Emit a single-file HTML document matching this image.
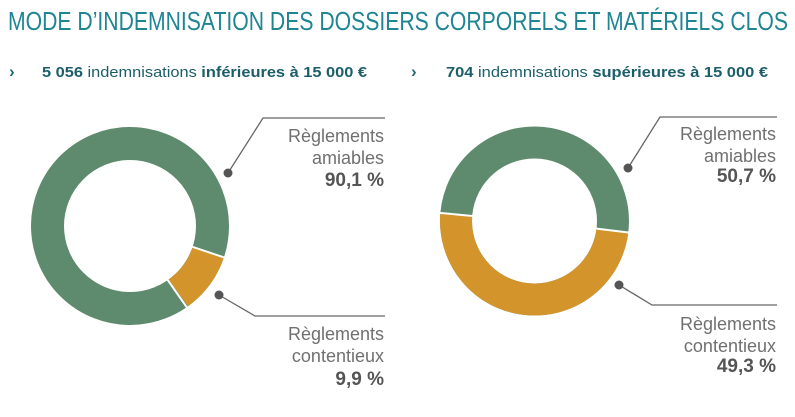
<!DOCTYPE html>
<html><head><meta charset="utf-8"><style>
html,body{margin:0;padding:0;background:#fff;width:795px;height:417px;overflow:hidden}
text{font-family:"Liberation Sans",sans-serif}
.l{fill:#707070;font-size:18px}
.b{fill:#555;font-size:19px;font-weight:bold}
</style></head><body>
<svg width="795" height="417" viewBox="0 0 795 417" xmlns="http://www.w3.org/2000/svg">
<text x="8" y="30" font-size="26" fill="#1f8593" textLength="780" lengthAdjust="spacingAndGlyphs">MODE D’INDEMNISATION DES DOSSIERS CORPORELS ET MATÉRIELS CLOS</text>
<text x="9" y="77" font-size="17" font-weight="bold" fill="#1b6b78">›</text>
<text x="42" y="77" font-size="15" fill="#1b5e6a" textLength="325" lengthAdjust="spacingAndGlyphs"><tspan font-weight="bold">5 056</tspan> indemnisations <tspan font-weight="bold">inférieures à 15 000 €</tspan></text>
<text x="411" y="77" font-size="17" font-weight="bold" fill="#1b6b78">›</text>
<text x="446" y="77" font-size="15" fill="#1b5e6a" textLength="322" lengthAdjust="spacingAndGlyphs"><tspan font-weight="bold">704</tspan> indemnisations <tspan font-weight="bold">supérieures à 15 000 €</tspan></text>

<!-- left donut -->
<g transform="translate(130,226)">
<circle r="82.5" fill="none" stroke="#5e8a6d" stroke-width="33"/>
<circle r="82.5" fill="none" stroke="#d4942c" stroke-width="33" stroke-dasharray="51.3 1000" transform="rotate(18.5)"/>
<line x1="62" y1="20.7" x2="103" y2="34.4" stroke="#fff" stroke-width="2"/>
<line x1="37" y1="53" x2="58" y2="83" stroke="#fff" stroke-width="2"/>
</g>
<!-- right donut -->
<g transform="translate(534.5,221)">
<circle r="78.5" fill="none" stroke="#5e8a6d" stroke-width="32"/>
<circle r="78.5" fill="none" stroke="#d4942c" stroke-width="32" stroke-dasharray="243 1000" transform="rotate(7)"/>
<line x1="62" y1="7.6" x2="96" y2="11.8" stroke="#fff" stroke-width="2"/>
<line x1="-62" y1="-5" x2="-96" y2="-8.2" stroke="#fff" stroke-width="2"/>
</g>

<g stroke="#666" stroke-width="1.3" fill="none">
<polyline points="228,173 263,118 385,118"/>
<polyline points="219,295 255,316 385,316"/>
<polyline points="628,168 660,117 777,117"/>
<polyline points="619,285 652,305 777,305"/>
</g>
<g fill="#555">
<circle cx="228" cy="173" r="4.5"/><circle cx="219" cy="295" r="4.5"/>
<circle cx="628" cy="168" r="4.5"/><circle cx="619" cy="285" r="4.5"/>
</g>
<g text-anchor="end">
<text class="l" x="384" y="142">Règlements</text>
<text class="l" x="384" y="164">amiables</text>
<text class="b" x="384" y="186">90,1 %</text>
<text class="l" x="384" y="340">Règlements</text>
<text class="l" x="384" y="362">contentieux</text>
<text class="b" x="384" y="385">9,9 %</text>
<text class="l" x="776" y="140">Règlements</text>
<text class="l" x="776" y="162">amiables</text>
<text class="b" x="776" y="182">50,7 %</text>
<text class="l" x="776" y="330">Règlements</text>
<text class="l" x="776" y="352">contentieux</text>
<text class="b" x="776" y="372">49,3 %</text>
</g>
</svg>
</body></html>
